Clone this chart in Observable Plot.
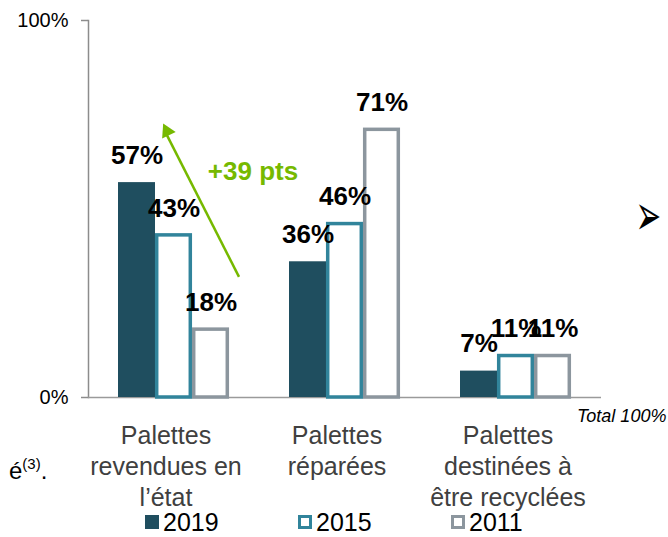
<!DOCTYPE html>
<html>
<head>
<meta charset="utf-8">
<script src="https://cdn.jsdelivr.net/npm/d3@7"></script>
<script src="https://cdn.jsdelivr.net/npm/@observablehq/plot@0.6"></script>
<style>
  body { margin: 0; background: #fff; font-family: "Liberation Sans", Arial, sans-serif; }
  #wrap { position: relative; width: 668px; height: 537px; overflow: hidden; background: #fff; }
  #chart svg { display: block; }
  .legend { position: absolute; left: 145px; top: 511px; display: flex; font-size: 25px; line-height: 0.9; color: #000; }
  .legend .item { display: flex; align-items: center; width: 153px; }
  .legend .sw { width: 14px; height: 14px; box-sizing: border-box; margin-right: 4px; }
  .note { position: absolute; line-height: 1; white-space: nowrap; }
</style>
</head>
<body>
<div id="wrap">
  <div id="chart"></div>
</div>
<script>
// ---- data ----
const categories = ["Palettes revendues en l’état", "Palettes réparées", "Palettes destinées à être recyclées"];
const categoryLines = [["Palettes", "revendues en", "l’état"], ["Palettes", "réparées"], ["Palettes", "destinées à", "être recyclées"]];
const years = ["2019", "2015", "2011"];
const values2019 = [57, 36, 7];
const values2015 = [43, 46, 11];
const values2011 = [18, 71, 11];
const yTicks = [0, 100];
const gainLabel = "+39 pts";
const totalNote = "Total 100%";
// annotation arrow (data space): from 2011 bar at ~32% up to 2019 bar at ~71%
const arrowFrom = { year: "2011", v: 32 };
const arrowTo = { year: "2019", v: 70.6 };
const gainAt = { year: "2011", v: 60 };

// ---- styles ----
const colors = { "2019": "#1F4E5F", "2015": "#31849B", "2011": "#8C969E" };
const green = "#76B900";

const series = [values2019, values2015, values2011];
const rows = categories.flatMap((c, i) => years.map((y, j) => ({ cat: c, year: y, v: series[j][i] })));
const rowsOf = (y) => rows.filter(d => d.year === y);

const chart = Plot.plot({
  width: 668,
  height: 505,
  marginLeft: 88,
  marginRight: 67,
  marginTop: 20,
  marginBottom: 108,
  style: { fontFamily: '"Liberation Sans", Arial, sans-serif', background: "white", overflow: "visible" },
  fx: { domain: categories, padding: 0, label: null },
  x: { domain: years, paddingInner: 0, paddingOuter: 0.77, axis: null },
  y: { domain: [0, 100], label: null },
  marks: [
    Plot.frame({ anchor: "left", facetAnchor: "left", stroke: "#8c8c8c", strokeWidth: 1.5 }),
    Plot.axisY({
      ticks: yTicks, tickFormat: d => d + "%", tickSize: 7, tickPadding: 13,
      fontSize: 20, stroke: "#8c8c8c", strokeWidth: 1.5, fill: "#000", label: null
    }),
    Plot.axisFx({
      anchor: "bottom", tickSize: 0, tickPadding: 24, fontSize: 25, lineHeight: 1.24, fill: "#404040", label: null,
      dx: -8,
      tickFormat: d => categoryLines[categories.indexOf(d)].join("\n")
    }),
    Plot.ruleY([0], { stroke: "#9a9a9a", strokeWidth: 1.5 }),
    Plot.barY(rowsOf("2019"), { fx: "cat", x: "year", y: "v", fill: colors["2019"], inset: 0 }),
    Plot.barY(rowsOf("2015"), { fx: "cat", x: "year", y: "v", fill: "white", stroke: colors["2015"], strokeWidth: 3.5, insetLeft: 1.7, insetRight: 1.7 }),
    Plot.barY(rowsOf("2011"), { fx: "cat", x: "year", y: "v", fill: "white", stroke: colors["2011"], strokeWidth: 3.5, insetLeft: 1.7, insetRight: 1.7 }),
    Plot.text(rows, { fx: "cat", x: "year", y: "v", text: d => d.v + "%", dy: -27, fontSize: 26, fontWeight: "bold", fill: "#000" }),
    Plot.link([{ cat: categories[0] }], {
      fx: "cat", x1: () => arrowFrom.year, y1: () => arrowFrom.v, x2: () => arrowTo.year, y2: () => arrowTo.v,
      stroke: green, strokeWidth: 2.5, dx: 28
    }),
    Plot.dot([{ cat: categories[0] }], {
      fx: "cat", x: () => arrowTo.year, y: () => arrowTo.v, symbol: "triangle", r: 5.6,
      fill: green, stroke: "none", rotate: -26, dx: 30
    }),
    Plot.text([{ cat: categories[0] }], {
      fx: "cat", x: () => gainAt.year, y: () => gainAt.v, text: () => gainLabel, dx: 42,
      fontSize: 26, fontWeight: "bold", fill: green
    })
  ]
});
document.getElementById("chart").appendChild(chart);

const wrap = document.getElementById("wrap");
// legend
const legend = document.createElement("div");
legend.className = "legend";
years.forEach((y, i) => {
  const item = document.createElement("div");
  item.className = "item";
  const sw = document.createElement("span");
  sw.className = "sw";
  if (i === 0) sw.style.background = colors[y];
  else { sw.style.background = "#fff"; sw.style.border = "3px solid " + colors[y]; }
  const t = document.createElement("span");
  t.textContent = y;
  item.appendChild(sw); item.appendChild(t);
  legend.appendChild(item);
});
wrap.appendChild(legend);

// stray slide texts
const total = document.createElement("div");
total.className = "note";
total.style.cssText += "left:577px;top:407px;font-size:18px;font-style:italic;color:#000;";
total.textContent = totalNote;
wrap.appendChild(total);

const frag = document.createElement("div");
frag.className = "note";
frag.style.cssText += "left:9px;top:456px;font-size:24px;color:#000;";
frag.innerHTML = "é<sup style='font-size:15px;vertical-align:10px'>(3)</sup>.";
wrap.appendChild(frag);

const bullet = document.createElement("div");
bullet.className = "note";
bullet.style.cssText += "left:634px;top:198px;font-size:34px;color:#000;font-family:'DejaVu Sans';transform:scale(0.9,1.7);transform-origin:50% 50%;";
bullet.textContent = "➢";
wrap.appendChild(bullet);
</script>
</body>
</html>
